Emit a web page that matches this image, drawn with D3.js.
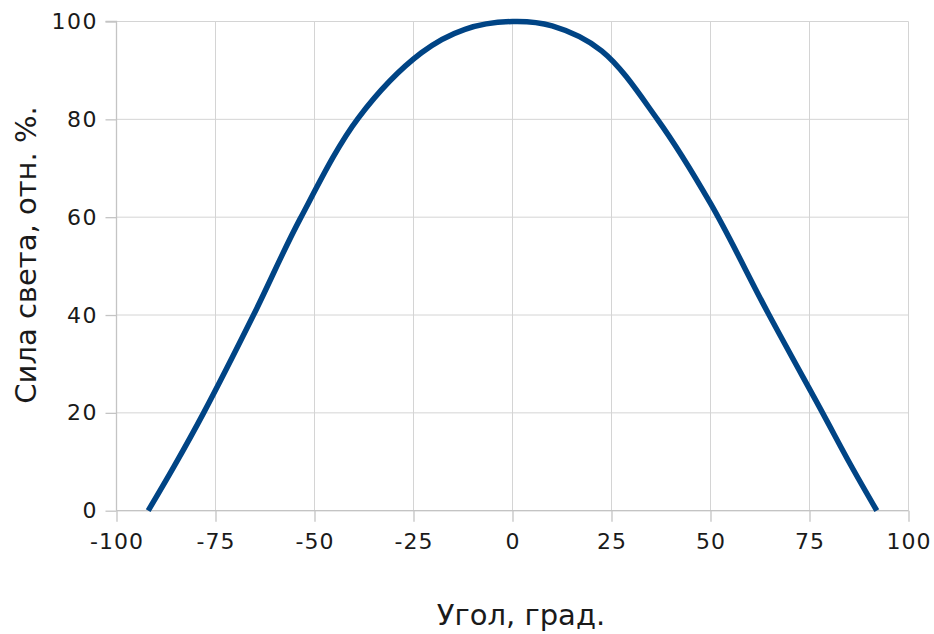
<!DOCTYPE html>
<html><head><meta charset="utf-8">
<script src="https://cdn.jsdelivr.net/npm/d3@7"></script>
<style>body{margin:0;background:#fff}svg{display:block}</style>
</head><body>
<svg id="c" width="934" height="634"></svg>
<script>
const angles = [-92,-85.5,-78,-65.4,-53.6,-38.9,-23,-12,0,10,22.5,36.6,50,64.6,78.3,85.3,92];
const intensity = [0,9,20,40,59.7,80.3,93.6,98.4,100,99.1,94,80,62.8,40.3,20,9.5,0];
const xTicks = [-100,-75,-50,-25,0,25,50,75,100];
const yTicks = [0,20,40,60,80,100];
const xTitle = "Угол, град.";
const yTitle = "Сила света, отн. %.";

const svg = d3.select("#c");
const font = "'DejaVu Sans', sans-serif";
const x = d3.scaleLinear().domain([-100,100]).range([116.5,908.5]);
const y = d3.scaleLinear().domain([0,100]).range([510.7,21.5]);

// gridlines
svg.append("g").selectAll("line").data(xTicks).join("line")
  .attr("x1",d=>x(d)).attr("x2",d=>x(d)).attr("y1",y(100)).attr("y2",y(0))
  .attr("stroke","#d4d4d4").attr("stroke-width",1);
svg.append("g").selectAll("line").data(yTicks).join("line")
  .attr("x1",x(-100)).attr("x2",x(100)).attr("y1",d=>y(d)).attr("y2",d=>y(d))
  .attr("stroke","#d4d4d4").attr("stroke-width",1);

const fmt = d => String(d);
// axes
const xa = svg.append("g").attr("transform",`translate(0,${y(0)})`)
  .call(d3.axisBottom(x).tickValues(xTicks).tickSize(11).tickPadding(12).tickFormat(fmt));
const ya = svg.append("g").attr("transform",`translate(${x(-100)},0)`)
  .call(d3.axisLeft(y).tickValues(yTicks).tickSize(11).tickPadding(9).tickFormat(fmt));
[xa,ya].forEach(a=>{
  a.select(".domain").attr("stroke","#c4c4c4").attr("stroke-width",1.3);
  a.selectAll(".tick line").attr("stroke","#c4c4c4").attr("stroke-width",1.3);
  a.selectAll("text").attr("font-family",font).attr("font-size",22).attr("fill","#1a1a1a");
});
xa.selectAll("text").attr("letter-spacing",1);
ya.selectAll("text").attr("letter-spacing",1.5).attr("dx","1.5");
ya.select(".domain").attr("d",`M-11,${y(100)}H0V${y(0)}`);
xa.select(".domain").attr("d",`M${x(-100)},0H${x(100)}`);

// curve
const line = d3.line().x((d,i)=>x(angles[i])).y(d=>y(d)).curve(d3.curveCatmullRom.alpha(0.5));
svg.append("path").datum(intensity).attr("d",line)
  .attr("fill","none").attr("stroke","#004485").attr("stroke-width",5.5).attr("stroke-linejoin","round");

// titles
svg.append("text").attr("x",521).attr("y",625).attr("text-anchor","middle")
  .attr("font-family",font).attr("font-size",29).attr("fill","#1a1a1a").text(xTitle);
svg.append("text").attr("transform","translate(36,255) rotate(-90)").attr("text-anchor","middle")
  .attr("font-family",font).attr("font-size",29).attr("fill","#1a1a1a").text(yTitle);
</script>
</body></html>
